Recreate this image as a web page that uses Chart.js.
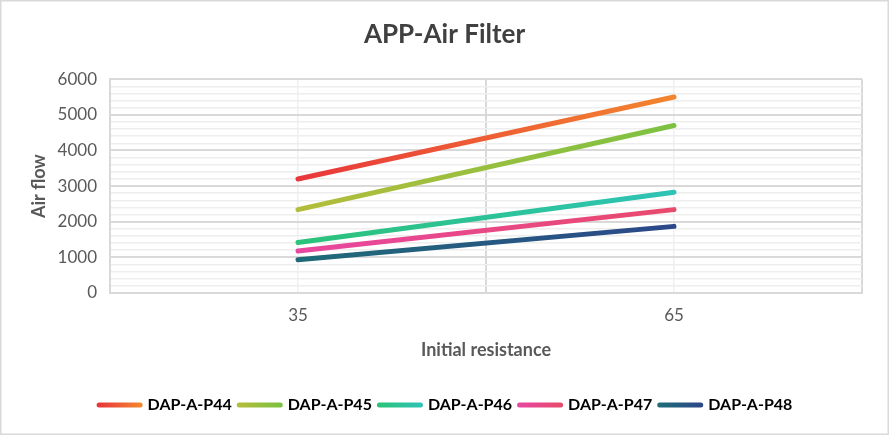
<!DOCTYPE html>
<html>
<head>
<meta charset="utf-8">
<script src="https://cdn.jsdelivr.net/npm/chart.js@4.4.1/dist/chart.umd.min.js"></script>
<style>
  html,body{margin:0;padding:0;background:#fff}
  #wrap{position:relative;width:889px;height:435px}
</style>
</head>
<body>
<div id="wrap"><canvas id="chart" width="889" height="435"></canvas></div>
<script>
(function(){
  "use strict";
  // data
  const RESISTANCE=[35,65];
  const SERIES_NAMES=["DAP-A-P44","DAP-A-P45","DAP-A-P46","DAP-A-P47","DAP-A-P48"];
  const P44=[3200,5500];
  const P45=[2340,4700];
  const P46=[1420,2830];
  const P47=[1180,2340];
  const P48=[930,1870];
  const X_LABELS=[35,65];
  const Y_LABELS=[0,1000,2000,3000,4000,5000,6000];

  const START=["#E8373B","#B2BD3A","#2BC27A","#E8479F","#1F6B78"];
  const END=["#F3852E","#7DC142","#2EC3B5","#E84A6C","#2C4889"];
  const FONT="Lato, 'Open Sans', sans-serif";
  const TXT="#595959", MAJOR="#D9D9D9", MINOR="#EEEEEE";

  const values=[P44,P45,P46,P47,P48];

  function grad(chart,i){
    const area=chart.chartArea; if(!area) return START[i];
    const xs=chart.scales.x;
    const g=chart.ctx.createLinearGradient(xs.getPixelForValue(RESISTANCE[0]),0,xs.getPixelForValue(RESISTANCE[RESISTANCE.length-1]),0);
    g.addColorStop(0,START[i]); g.addColorStop(1,END[i]);
    return g;
  }

  const datasets=values.map((v,i)=>({
    label:SERIES_NAMES[i],
    data:v.map((y,j)=>({x:RESISTANCE[j],y:y})),
    borderColor:ctx=>grad(ctx.chart,i),
    borderWidth:5,
    borderCapStyle:"round",
    pointRadius:0,
    pointHoverRadius:0,
    fill:false,
    tension:0
  }));

  const frame={
    id:"frame",
    beforeDraw(chart){
      const c=chart.ctx; c.save();
      c.fillStyle="#fff"; c.fillRect(0,0,chart.width,chart.height);
      c.strokeStyle=MAJOR; c.lineWidth=1.5; c.strokeRect(0.75,0.75,chart.width-1.5,chart.height-1.5);
      c.restore();
    }
  };

  // legend keys drawn as gradient strokes like the series
  const legendLines={
    id:"legendLines",
    afterDraw(chart){
      const lg=chart.legend; if(!lg||!lg.legendHitBoxes) return;
      const c=chart.ctx; const bw=lg.options.labels.boxWidth;
      lg.legendHitBoxes.forEach((hb,i)=>{
        const x0=hb.left+2.5,x1=hb.left+bw+0.5,y=hb.top+hb.height/2;
        const g=c.createLinearGradient(x0,0,x1,0);
        g.addColorStop(0,START[i]); g.addColorStop(1,END[i]);
        c.save(); c.strokeStyle=g; c.lineWidth=5; c.lineCap="round";
        c.beginPath(); c.moveTo(x0,y); c.lineTo(x1,y); c.stroke(); c.restore();
      });
    }
  };

  new Chart(document.getElementById("chart"),{
    type:"line",
    data:{datasets:datasets},
    plugins:[frame,legendLines],
    options:{
      responsive:false,
      animation:false,
      layout:{padding:{left:0,right:0,top:0,bottom:12}},
      plugins:{
        title:{display:true,text:"APP-Air Filter",color:"#404040",
          font:{family:FONT,size:26,weight:"bold"},padding:{top:19,bottom:29}},
        legend:{position:"bottom",
          labels:{boxWidth:43,boxHeight:6,padding:5,color:TXT,
            font:{family:FONT,size:16,weight:"bold"},
            generateLabels:chart=>chart.data.datasets.map((d,i)=>({
              text:d.label,fillStyle:"rgba(0,0,0,0)",strokeStyle:"rgba(0,0,0,0)",lineWidth:0,datasetIndex:i
            }))
          }},
        tooltip:{enabled:false}
      },
      scales:{
        x:{type:"linear",min:20,max:80,
          afterFit:s=>{s.height=99;},
          ticks:{stepSize:15,autoSkip:false,padding:12,color:TXT,font:{family:FONT,size:17},
            callback:v=>X_LABELS.includes(v)?String(v):""},
          grid:{drawTicks:false,lineWidth:c=>X_LABELS.includes(c.tick&&c.tick.value)?1.5:2,
            color:c=>X_LABELS.includes(c.tick&&c.tick.value)?"#F0F0F0":MAJOR},
          border:{display:true,color:MAJOR,width:2},
          title:{display:true,text:"Initial resistance",color:TXT,
            font:{family:FONT,size:18,weight:"bold"},padding:{top:0,bottom:31}}
        },
        y:{min:0,max:6000,
          afterFit:s=>{s.width=110;},
          ticks:{stepSize:200,autoSkip:false,padding:13,color:TXT,font:{family:FONT,size:17},
            callback:v=>Y_LABELS.includes(v)?String(v):""},
          grid:{drawTicks:false,lineWidth:c=>(c.tick&&Y_LABELS.includes(c.tick.value))?2:1.5,
            color:c=>(c.tick&&Y_LABELS.includes(c.tick.value))?MAJOR:MINOR},
          border:{display:true,color:MAJOR,width:2},
          title:{display:true,text:"Air flow",color:TXT,
            font:{family:FONT,size:18,weight:"bold"},padding:{top:28,bottom:0}}
        },
        // empty right gutter so the plot ends where the reference does
        gutter:{position:"right",min:0,max:1,
          afterFit:s=>{s.width=27;},
          grid:{display:false},ticks:{display:false},border:{display:false}}
      }
    }
  });
})();
</script>
</body>
</html>
